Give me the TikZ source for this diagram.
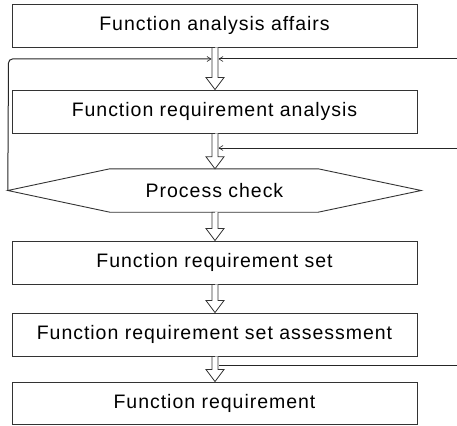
\documentclass[tikz,border=0pt]{standalone}
\usepackage{fontspec}
\setmainfont[LetterSpace=5]{Liberation Sans}
\usetikzlibrary{arrows.meta,calc}
\definecolor{lc}{HTML}{333333}
\tikzset{
  box/.style={draw=lc, line width=0.9pt, minimum width=405pt, minimum height=43pt, inner sep=0pt, font=\fontsize{19.5}{21}\selectfont},
  harrow/.style={draw=lc, line width=0.8pt, fill=white, line join=miter},
  feed/.style={draw=black!85, line width=1pt},
  tipin/.style={-{Straight Barb[length=4pt,width=5pt,line width=0.6pt]}},
}
\newcommand\hollowarr[2]{%
  \draw[harrow] let \p1=(#1), \p2=(#2) in
    (215pt,\y1) -- (215pt-3pt,\y1) -- (215pt-3pt,\y2+12pt) -- (215pt-9pt,\y2+12pt) -- (215pt,\y2)
    -- (215pt+9pt,\y2+12pt) -- (215pt+3pt,\y2+12pt) -- (215pt+3pt,\y1);}
\begin{document}
\begin{tikzpicture}[x=1pt,y=-1pt]
\useasboundingbox (0,0) rectangle (457,425);
\node[box] (b1) at (214.5,25.5) {Function analysis affairs};
\node[box] (b2) at (214.5,111.5) {Function requirement analysis};
\node[minimum width=413pt, minimum height=43pt, inner sep=0pt, font=\fontsize{19.5}{21}\selectfont] (hex) at (214.5,190.5) {Process check};
\draw[draw=lc, line width=0.9pt] (hex.west) -- ([xshift=102pt]hex.north west) -- ([xshift=-103pt]hex.north east) -- (hex.east) -- ([xshift=-103pt]hex.south east) -- ([xshift=102pt]hex.south west) -- cycle;
\node[box] (b3) at (214.5,262.5) {Function requirement set};
\node[box] (b4) at (214.5,334.5) {Function requirement set assessment};
\node[box, minimum height=42pt] (b5) at (214.5,403) {Function requirement};
% hollow arrows
\hollowarr{b1.south}{b2.north}
\hollowarr{b2.south}{hex.north}
\hollowarr{hex.south}{b3.north}
\hollowarr{b3.south}{b4.north}
\hollowarr{b4.south}{b5.north}
% feedback lines
\coordinate (lt) at (8.5,59);
\coordinate (la) at (211.5,59);
\coordinate (r1) at (457,59);
\coordinate (ra) at (218.5,59);
\coordinate (r2) at (457,148);
\coordinate (rb) at (218.5,148);
\coordinate (r3) at (457,365);
\coordinate (rc) at (218.5,365);
\draw[feed, tipin, rounded corners=4pt] (hex.west) -- (lt) -- (la);
\draw[feed, tipin] (r1) -- (ra);
\draw[feed, tipin] (r2) -- (rb);
\draw[feed] (r3) -- (rc);
\end{tikzpicture}
\end{document}
